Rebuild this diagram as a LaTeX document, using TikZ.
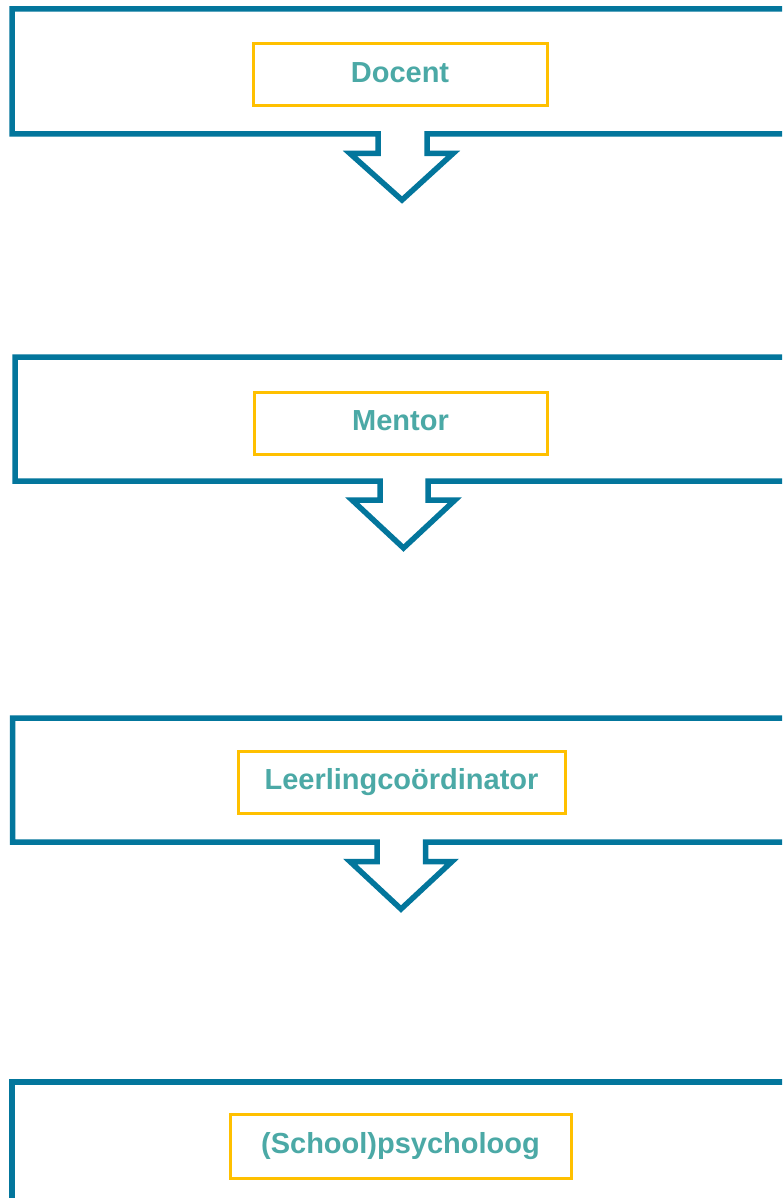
\documentclass[tikz,border=0pt]{standalone}
\usepackage{fontspec}
\setmainfont{Liberation Sans}
\definecolor{frameblue}{HTML}{03769C}
\definecolor{boxyellow}{HTML}{FFC000}
\definecolor{textteal}{HTML}{4BA9A6}
\tikzset{
  callout/.style={draw=frameblue, line width=5.5pt, miter limit=10},
  rolebox/.style={draw=boxyellow, line width=3pt, rectangle, inner sep=0pt,
    text=textteal, font=\fontsize{29}{33}\selectfont\bfseries,
    text height=21pt, text depth=6pt, anchor=north west}
}
\begin{document}
\begin{tikzpicture}[x=1pt,y=-1pt]
\useasboundingbox (0,0) rectangle (782,1198);
\clip (0,0) rectangle (782,1198);
\fill[white] (0,0) rectangle (782,1198);
% block 1
\draw[callout] (820,9) -- (12,9) -- (12,134) -- (378,134) -- (378,153.5) -- (350,153.5)
  -- (402,200) -- (453,153.5) -- (427,153.5) -- (427,134) -- (820,134);
% block 2
\draw[callout] (820,357) -- (15,357) -- (15,481) -- (380,481) -- (380,500) -- (352,500)
  -- (403.5,548) -- (455,500) -- (428,500) -- (428,481) -- (820,481);
% block 3
\draw[callout] (820,718) -- (12.5,718) -- (12.5,842) -- (377,842) -- (377,861.5) -- (350,861.5)
  -- (401,909) -- (452,861.5) -- (425.5,861.5) -- (425.5,842) -- (820,842);
% block 4
\draw[callout] (820,1082) -- (12,1082) -- (12,1240);
% role boxes
\node[rolebox, minimum width=294pt, minimum height=62pt] (docent) at (251.5,42.5) {Docent};
\node[rolebox, minimum width=293pt, minimum height=62pt] (mentor) at (252.5,390.5) {Mentor};
\node[rolebox, minimum width=327pt, minimum height=62pt] (llc) at (236.5,749.5) {Leerlingcoördinator};
\node[rolebox, minimum width=341pt, minimum height=64pt] (psy) at (228.5,1112.5) {(School)psycholoog};
\end{tikzpicture}
\end{document}
